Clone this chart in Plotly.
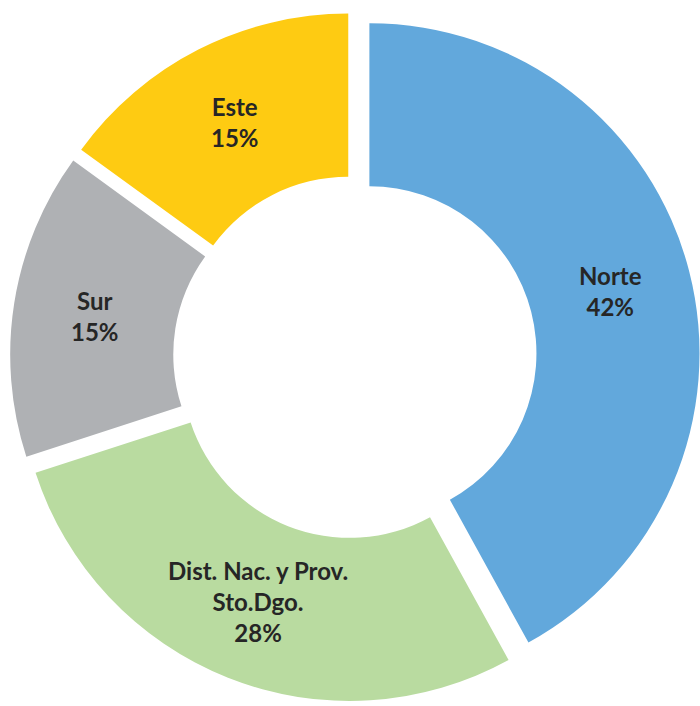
import numpy as np
import plotly.graph_objects as go

labels = ["Norte", "Dist. Nac. y Prov. Sto.Dgo.", "Sur", "Este"]
display_labels = ["Norte", "Dist. Nac. y Prov.<br>Sto.Dgo.", "Sur", "Este"]
values = [42, 28, 15, 15]
colors = ["#62A8DC", "#B9DBA0", "#AFB1B4", "#FECB12"]

PULL = 0.045
HOLE = 0.506
W, H = 700, 706
ML, MR, MT, MB = 10, 0, 8, 0

fig = go.Figure(go.Pie(
    labels=labels,
    values=values,
    textinfo="none",
    sort=False,
    direction="clockwise",
    rotation=0,
    hole=HOLE,
    pull=[PULL] * len(values),
    marker=dict(colors=colors, line=dict(width=0)),
    showlegend=False,
    hoverinfo="label+percent",
))

# Labels placed at the middle of each (pulled) ring segment, computed from the values
pw, ph = W - ML - MR, H - MT - MB
vals = np.array(values, dtype=float)
frac = vals / vals.sum()
mid = (np.cumsum(frac) - frac / 2) * 2 * np.pi  # clockwise from 12 o'clock
r_px = min(pw, ph) / (2 * (1 + PULL))
r_text = PULL * r_px + r_px * (1 + HOLE) / 2
for lab, f, a in zip(display_labels, frac, mid):
    fig.add_annotation(
        x=0.5 + r_text * np.sin(a) / pw,
        y=0.5 + r_text * np.cos(a) / ph,
        xref="paper", yref="paper",
        text=f"<b>{lab}<br>{round(f * 100)}%</b>",
        showarrow=False,
        align="center",
        xanchor="center", yanchor="middle",
        font=dict(family="Lato, Open Sans, sans-serif", size=24, color="#262626"),
    )

fig.update_layout(
    width=W,
    height=H,
    margin=dict(l=ML, r=MR, t=MT, b=MB, pad=0),
    paper_bgcolor="white",
    plot_bgcolor="white",
)

fig.write_html(
    "out.html",
    config={"displayModeBar": False},
    post_script="document.body.style.margin='0';document.documentElement.style.overflow='hidden';",
)
